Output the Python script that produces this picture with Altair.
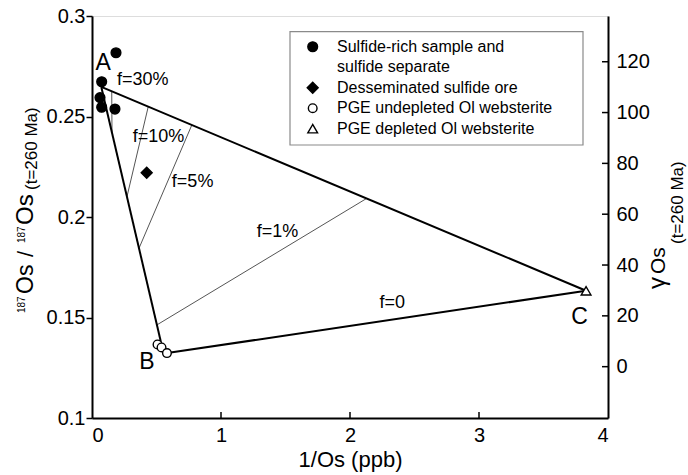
import altair as alt
import pandas as pd

FONT = "Liberation Sans"

# ---------------- data ----------------
sulfide_x = [0.186, 0.075, 0.062, 0.075, 0.178]
sulfide_y = [0.2817, 0.2673, 0.2594, 0.2546, 0.2537]
dissem_x = [0.424]
dissem_y = [0.222]
undepleted_x = [0.508, 0.539, 0.581]
undepleted_y = [0.1366, 0.1351, 0.1323]
depleted_x = [3.830]
depleted_y = [0.1633]

categories = [
    "Sulfide-rich sample and\nsulfide separate",
    "Desseminated sulfide ore",
    "PGE undepleted Ol websterite",
    "PGE depleted Ol websterite",
]

# mixing lines (end points)
mix_names = ["A-B", "A-C", "B-C"]
mix_x0 = [0.072, 0.072, 0.583]
mix_y0 = [0.2647, 0.2647, 0.1323]
mix_x1 = [0.536, 3.830, 3.830]
mix_y1 = [0.1373, 0.1633, 0.1633]

# tie lines f = 30 %, 10 %, 5 %, 1 %
tie_names = ["f=30%", "f=10%", "f=5%", "f=1%"]
tie_x0 = [0.153, 0.436, 0.774, 2.128]
tie_y0 = [0.2625, 0.2549, 0.2458, 0.2092]
tie_x1 = [0.155, 0.271, 0.364, 0.503]
tie_y1 = [0.2418, 0.2101, 0.1844, 0.1463]

end_labels = ["A", "B", "C"]
end_x = [0.087, 0.426, 3.78]
end_y = [0.2766, 0.128, 0.1504]

f_labels = ["f=30%", "f=10%", "f=5%", "f=1%", "f=0"]
f_x = [0.393, 0.516, 0.78, 1.438, 2.328]
f_y = [0.2682, 0.240, 0.2176, 0.1927, 0.157]

x_ticks = [0, 1, 2, 3, 4]
y_ticks = [0.1, 0.15, 0.2, 0.25, 0.3]
gamma_ticks = [0, 20, 40, 60, 80, 100, 120]

left_title_parts = ["187", "Os", "/", "187", "Os", "(t=260 Ma)"]
right_title_parts = ["\u03b3", "Os", "(t=260 Ma)"]
x_title = "1/Os (ppb)"

# ---------------- layout ----------------
W, H = 516, 402
PAD = {"left": 92, "top": 16, "right": 80, "bottom": 57}

xscale = alt.Scale(domain=[0, 4], nice=False, zero=False)
yscale = alt.Scale(domain=[0.1, 0.3], nice=False, zero=False)
gscale = alt.Scale(domain=[-20.2, 138.0], nice=False, zero=False)

xaxis = alt.Axis(values=x_ticks, format="d", title=x_title, grid=False, tickSize=0,
                 labelPadding=7, labelFontSize=20, titleFontSize=22, titlePadding=4,
                 domainWidth=2, domainColor="black", labelColor="black",
                 titleColor="black", titleFontWeight="normal", labelFont=FONT, titleFont=FONT)
yaxis = alt.Axis(values=y_ticks, format="~g", title=None, grid=False, tickSize=6,
                 tickWidth=1.5, tickColor="black", labelPadding=1, labelFontSize=20,
                 domainWidth=2, domainColor="black", labelColor="black", labelFont=FONT)
gaxis = alt.Axis(values=gamma_ticks, format="d", title=None, grid=False, tickSize=0,
                 orient="right", labelPadding=8, labelFontSize=20, domainWidth=2,
                 domainColor="black", labelColor="black", labelFont=FONT)

X = alt.X("x:Q", scale=xscale, axis=xaxis)
Y = alt.Y("y:Q", scale=yscale, axis=yaxis)


def seg_df(names, x0, y0, x1, y1):
    rows = []
    for n, a, b, c, d in zip(names, x0, y0, x1, y1):
        rows.append({"seg": n, "o": 0, "x": a, "y": b})
        rows.append({"seg": n, "o": 1, "x": c, "y": d})
    return pd.DataFrame(rows)


thick = alt.Chart(seg_df(mix_names, mix_x0, mix_y0, mix_x1, mix_y1)).mark_line(
    color="black", strokeWidth=2).encode(x=X, y=Y, detail="seg:N", order="o:Q")
thin = alt.Chart(seg_df(tie_names, tie_x0, tie_y0, tie_x1, tie_y1)).mark_line(
    color="#555555", strokeWidth=1).encode(x=X, y=Y, detail="seg:N", order="o:Q")

# point styles per category
styles = {
    categories[0]: ("circle", "black", 95),
    categories[1]: ("diamond", "black", 120),
    categories[2]: ("circle", "white", 75),
    categories[3]: ("triangle-up", "white", 95),
}
groups = [(sulfide_x, sulfide_y), (dissem_x, dissem_y),
          (undepleted_x, undepleted_y), (depleted_x, depleted_y)]
prow = []
for cat, (xs, ys) in zip(categories, groups):
    sh, fl, sz = styles[cat]
    for a, b in zip(xs, ys):
        prow.append({"x": a, "y": b, "shape": sh, "fill": fl, "size": sz})
pts_df = pd.DataFrame(prow)
points = alt.Chart(pts_df).mark_point(opacity=1, strokeWidth=1.4, filled=False).encode(
    x=X, y=Y,
    shape=alt.Shape("shape:N", scale=None),
    fill=alt.Fill("fill:N", scale=None),
    size=alt.Size("size:Q", scale=None),
    stroke=alt.value("black"),
)

end_txt = alt.Chart(pd.DataFrame({"x": end_x, "y": end_y, "t": end_labels})).mark_text(
    font=FONT, fontSize=23, color="black", align="center", baseline="middle").encode(
    x=X, y=Y, text="t:N")
f_txt = alt.Chart(pd.DataFrame({"x": f_x, "y": f_y, "t": f_labels})).mark_text(
    font=FONT, fontSize=18, color="black", align="center", baseline="middle").encode(
    x=X, y=Y, text="t:N")

# inward ticks on x axis
xt = alt.Chart(pd.DataFrame({"x": x_ticks[1:-1]})).mark_rule(
    color="black", strokeWidth=1.5).encode(x=X, y=alt.value(H), y2=alt.value(H - 6))

# ---------------- legend (manual) ----------------
box = alt.Chart(pd.DataFrame({"a": [0]})).mark_rect(
    fill="white", stroke="#8a8a8a", strokeWidth=1.2).encode(
    x=alt.value(198), x2=alt.value(491), y=alt.value(15.7), y2=alt.value(129))

leg_sym_rows, leg_txt_rows = [], []
yy = 30.7
line_h = 20.5
for cat in categories:
    sh, fl, sz = styles[cat]
    leg_sym_rows.append({"px": 220.7, "py": yy, "shape": sh, "fill": fl, "size": sz})
    for line in cat.split("\n"):
        leg_txt_rows.append({"px": 245, "py": yy, "t": line})
        yy += line_h
leg_sym = alt.Chart(pd.DataFrame(leg_sym_rows)).mark_point(
    opacity=1, strokeWidth=1.4, filled=False).encode(
    x=alt.X("px:Q", scale=None), y=alt.Y("py:Q", scale=None),
    shape=alt.Shape("shape:N", scale=None), fill=alt.Fill("fill:N", scale=None),
    size=alt.Size("size:Q", scale=None), stroke=alt.value("black"))
leg_txt = alt.Chart(pd.DataFrame(leg_txt_rows)).mark_text(
    font=FONT, fontSize=16, color="black", align="left", baseline="middle").encode(
    x=alt.X("px:Q", scale=None), y=alt.Y("py:Q", scale=None), text="t:N")

# ---------------- rotated axis titles made of pieces ----------------
lt_x = [-67, -59, -59, -67, -59, -55]
lt_y = [297, 278, 241, 227, 209, 174]
lt_s = [10, 23, 22, 10, 24, 17]
rt_x = [573, 573, 591]
rt_y = [273, 258, 228]
rt_s = [24, 21, 17]
title_rows = []
for t, a, b, s in zip(left_title_parts, lt_x, lt_y, lt_s):
    title_rows.append({"px": a, "py": b, "t": t, "s": s})
for t, a, b, s in zip(right_title_parts, rt_x, rt_y, rt_s):
    title_rows.append({"px": a, "py": b, "t": t, "s": s})
titles = alt.Chart(pd.DataFrame(title_rows)).mark_text(
    font=FONT, color="black", align="left", baseline="alphabetic", angle=270).encode(
    x=alt.X("px:Q", scale=None), y=alt.Y("py:Q", scale=None), text="t:N",
    size=alt.Size("s:Q", scale=None))

main = alt.layer(thin, thick, xt, points, end_txt, f_txt, box, leg_sym, leg_txt, titles)

# right gamma axis with inward ticks
gam = alt.Chart(pd.DataFrame({"g": gamma_ticks})).mark_rule(
    color="black", strokeWidth=1.5).encode(
    y=alt.Y("g:Q", scale=gscale, axis=gaxis), x=alt.value(W), x2=alt.value(W - 6))

chart = alt.layer(main, gam).resolve_scale(y="independent").properties(
    width=W, height=H,
    autosize=alt.AutoSizeParams(type="none"),
    padding=PAD,
).configure_view(stroke="black", strokeWidth=1.8).configure(background="white")

chart.save("out.html", embed_options={"renderer": "svg", "actions": False})
